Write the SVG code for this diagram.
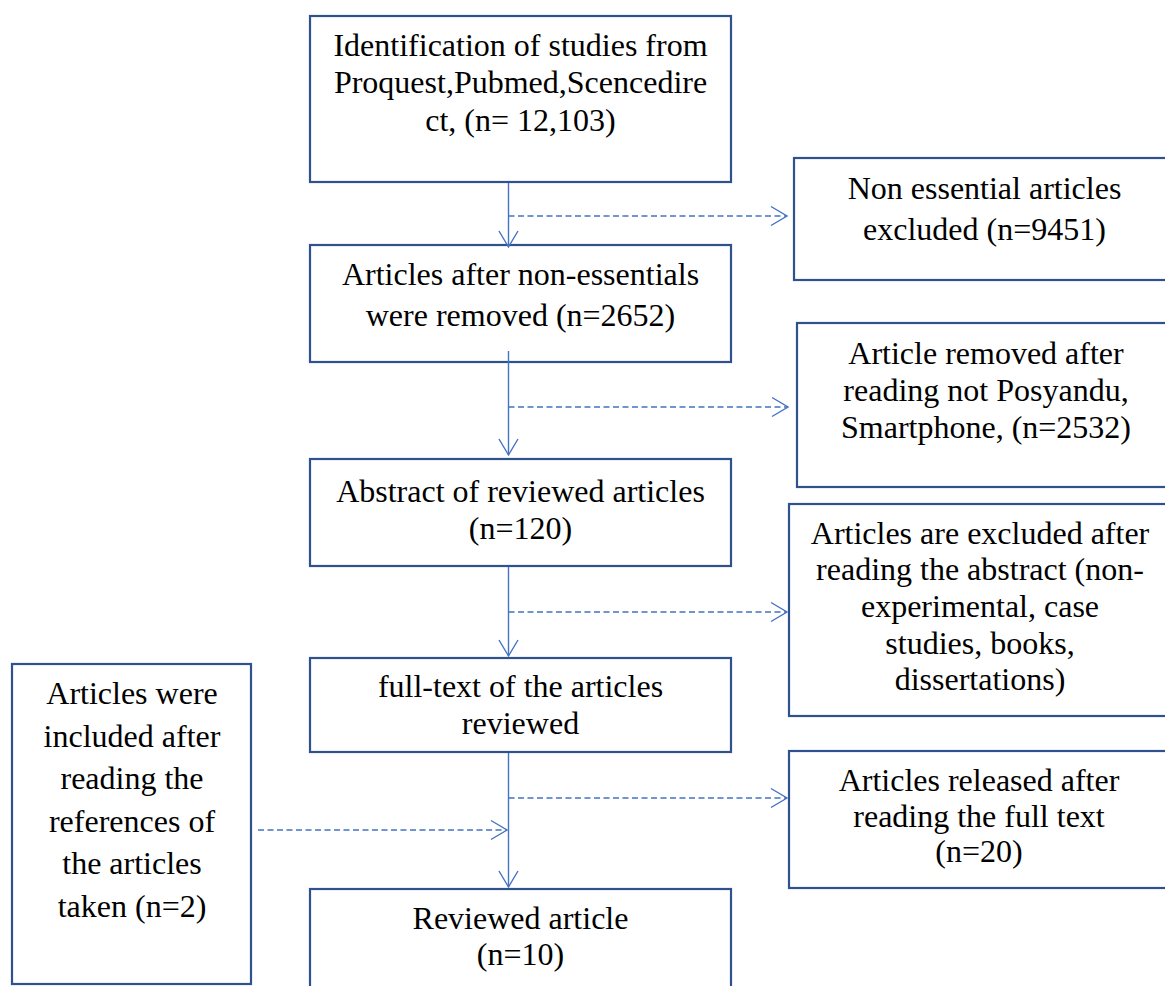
<svg xmlns="http://www.w3.org/2000/svg" width="1165" height="986" viewBox="0 0 1165 986">
<style>
.box{fill:#ffffff;stroke:#2F528F;stroke-width:2.2}
.t{font-family:"Liberation Serif","Times New Roman",serif;font-size:32px;fill:#000000;text-anchor:middle}
.solid{stroke:#4472C4;stroke-width:1.4;fill:none}
.dash{stroke:#4472C4;stroke-width:1.4;fill:none;stroke-dasharray:6 3.5}
</style>
<defs>
<marker id="arr" markerUnits="userSpaceOnUse" viewBox="-18 -11 20 22" markerWidth="20" markerHeight="22" refX="0" refY="0" orient="auto">
<path d="M-16,-9.5 L0,0 L-16,9.5" fill="none" stroke="#4472C4" stroke-width="1.4" stroke-dasharray="none"/>
</marker>
</defs>
<rect width="1165" height="986" fill="#ffffff"/>
<g id="n1">
<rect class="box" x="310" y="16" width="421" height="166"/>
<text class="t" x="520.5" y="56">Identification of studies from</text>
<text class="t" x="520.5" y="93">Proquest,Pubmed,Scencedire</text>
<text class="t" x="520.5" y="131">ct, (n= 12,103)</text>
</g>
<g id="n2">
<rect class="box" x="310" y="245" width="421" height="117"/>
<text class="t" x="520.5" y="285">Articles after non-essentials</text>
<text class="t" x="520.5" y="326">were removed (n=2652)</text>
</g>
<g id="n3">
<rect class="box" x="310" y="459" width="421" height="107"/>
<text class="t" x="520.5" y="502">Abstract of reviewed articles</text>
<text class="t" x="520.5" y="539">(n=120)</text>
</g>
<g id="n4">
<rect class="box" x="310" y="658" width="421" height="94"/>
<text class="t" x="520.5" y="697">full-text of the articles</text>
<text class="t" x="520.5" y="734">reviewed</text>
</g>
<g id="n5">
<rect class="box" x="310" y="889" width="421" height="110"/>
<text class="t" x="520.5" y="929">Reviewed article</text>
<text class="t" x="520.5" y="965">(n=10)</text>
</g>
<g id="r1">
<rect class="box" x="794" y="158" width="390" height="122"/>
<text class="t" x="984.5" y="199">Non essential articles</text>
<text class="t" x="984.5" y="240">excluded (n=9451)</text>
</g>
<g id="r2">
<rect class="box" x="797" y="323" width="390" height="164"/>
<text class="t" x="986" y="364">Article removed after</text>
<text class="t" x="986" y="401">reading not Posyandu,</text>
<text class="t" x="986" y="438">Smartphone, (n=2532)</text>
</g>
<g id="r3">
<rect class="box" x="789" y="504" width="390" height="212"/>
<text class="t" x="980" y="544">Articles are excluded after</text>
<text class="t" x="980" y="580">reading the abstract (non-</text>
<text class="t" x="980" y="617">experimental, case</text>
<text class="t" x="980" y="654">studies, books,</text>
<text class="t" x="980" y="690">dissertations)</text>
</g>
<g id="r4">
<rect class="box" x="789" y="751" width="390" height="137"/>
<text class="t" x="979" y="791">Articles released after</text>
<text class="t" x="979" y="827">reading the full text</text>
<text class="t" x="979" y="862">(n=20)</text>
</g>
<g id="l1">
<rect class="box" x="12" y="664" width="239" height="320"/>
<text class="t" x="132" y="704">Articles were</text>
<text class="t" x="132" y="747">included after</text>
<text class="t" x="132" y="789">reading the</text>
<text class="t" x="132" y="832">references of</text>
<text class="t" x="132" y="874">the articles</text>
<text class="t" x="132" y="917">taken (n=2)</text>
</g>
<g id="connectors">
<line class="solid" x1="508.5" y1="183" x2="508.5" y2="247" marker-end="url(#arr)"/>
<line class="solid" x1="508.5" y1="351" x2="508.5" y2="455" marker-end="url(#arr)"/>
<line class="solid" x1="508.5" y1="567" x2="508.5" y2="656" marker-end="url(#arr)"/>
<line class="solid" x1="508.5" y1="753" x2="508.5" y2="887" marker-end="url(#arr)"/>
<line class="dash" x1="508.5" y1="216" x2="787" y2="216" marker-end="url(#arr)"/>
<line class="dash" x1="508.5" y1="407" x2="788" y2="407" marker-end="url(#arr)"/>
<line class="dash" x1="508.5" y1="612" x2="787" y2="612" marker-end="url(#arr)"/>
<line class="dash" x1="508.5" y1="798" x2="787" y2="798" marker-end="url(#arr)"/>
<line class="dash" x1="258" y1="830" x2="507" y2="830" marker-end="url(#arr)"/>
</g>
</svg>
